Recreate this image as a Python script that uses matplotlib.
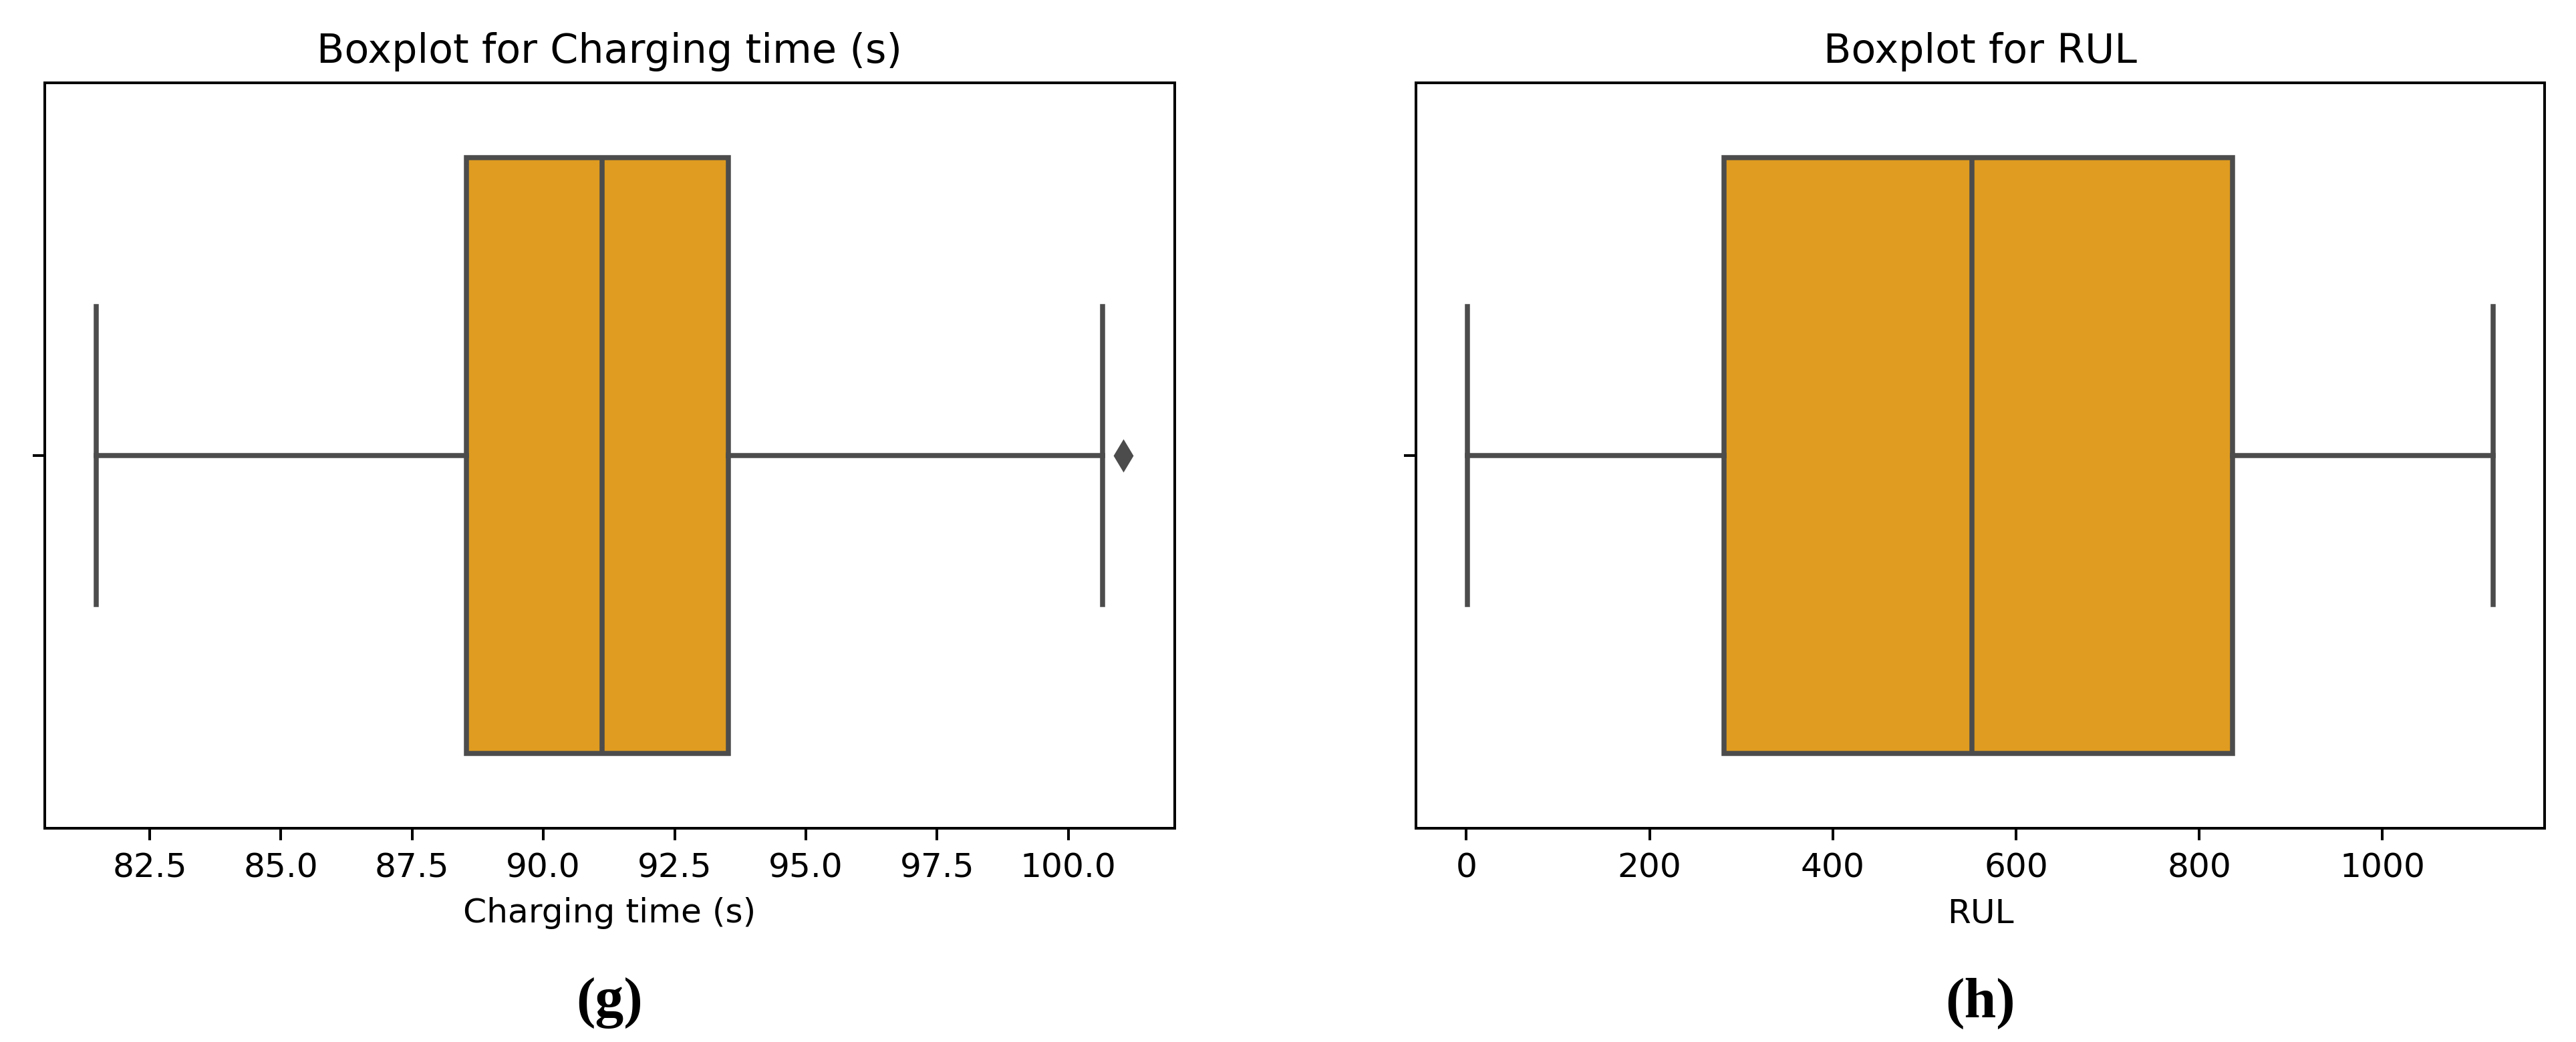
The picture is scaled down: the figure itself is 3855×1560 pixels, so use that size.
import matplotlib
matplotlib.use("Agg")
import matplotlib.pyplot as plt

# ---- data ----
titles = ["Boxplot for Charging time (s)", "Boxplot for RUL"]
xlabels = ["Charging time (s)", "RUL"]
panel_labels = ["(g)", "(h)"]

charge_q1 = 88.53
charge_med = 91.12
charge_q3 = 93.52
charge_whislo = 81.48
charge_whishi = 100.65
charge_fliers = [101.05]
charge_ticks = [82.5, 85.0, 87.5, 90.0, 92.5, 95.0, 97.5, 100.0]

rul_q1 = 281.5
rul_med = 552.0
rul_q3 = 836.0
rul_whislo = 1.0
rul_whishi = 1121.0
rul_fliers = []
rul_ticks = [0, 200, 400, 600, 800, 1000]

fill_color = "#DF9C20"
line_color = "#4c4c4c"

DPI = 362
fig = plt.figure(figsize=(3855 / DPI, 1560 / DPI), dpi=DPI)

W, H = 3855, 1560
axes_px = [(67, 124, 1758, 1240), (2119, 124, 3808, 1240)]

stats_list = [
    dict(med=charge_med, q1=charge_q1, q3=charge_q3, whislo=charge_whislo,
         whishi=charge_whishi, fliers=charge_fliers),
    dict(med=rul_med, q1=rul_q1, q3=rul_q3, whislo=rul_whislo,
         whishi=rul_whishi, fliers=rul_fliers),
]
ticks_list = [charge_ticks, rul_ticks]

for i, (x0, y0, x1, y1) in enumerate(axes_px):
    ax = fig.add_axes([x0 / W, 1 - y1 / H, (x1 - x0) / W, (y1 - y0) / H])
    lw = 1.5
    ax.bxp([stats_list[i]], positions=[0], widths=0.8, capwidths=0.4,
           orientation="horizontal", patch_artist=True, showfliers=True,
           boxprops=dict(facecolor=fill_color, edgecolor=line_color, linewidth=lw),
           medianprops=dict(color=line_color, linewidth=lw),
           whiskerprops=dict(color=line_color, linewidth=lw),
           capprops=dict(color=line_color, linewidth=lw),
           flierprops=dict(marker="d", markerfacecolor=line_color,
                           markeredgecolor=line_color, markersize=5.5,
                           linestyle="none"))
    ax.set_ylim(0.5, -0.5)
    ax.set_yticks([0])
    ax.set_yticklabels([""])
    ax.set_xticks(ticks_list[i])
    if i == 0:
        ax.set_xticklabels([f"{t:.1f}" for t in ticks_list[i]])
    else:
        ax.set_xticklabels([f"{t:d}" for t in ticks_list[i]])
    ax.margins(x=0.05)
    ax.tick_params(labelsize=10)
    ax.set_xlabel(xlabels[i], fontsize=10)
    ax.set_title(titles[i], fontsize=12)
    fig.text((x0 + x1) / 2 / W, 1 - 1502 / H, panel_labels[i],
             ha="center", va="center", fontsize=17, fontweight="bold",
             family="Liberation Serif")

fig.savefig("out.png", dpi=DPI)
